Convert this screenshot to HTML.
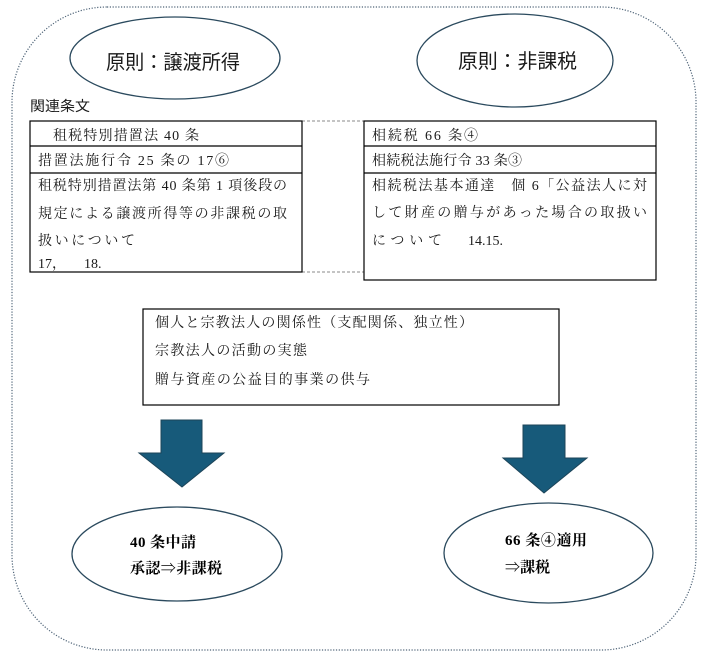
<!DOCTYPE html>
<html lang="ja">
<head>
<meta charset="utf-8">
<style>
  html, body { margin: 0; padding: 0; background: #ffffff; }
  body { width: 705px; height: 655px; overflow: hidden; }
  svg { display: block; }
  .m { font-family: "Liberation Serif", "Noto Serif CJK SC", serif; font-size: 14px; fill: #1a1a1a; }
  .g { font-family: "Liberation Sans", "Noto Sans CJK JP", sans-serif; fill: #1a1a1a; }
  .b { font-family: "Liberation Serif", "Noto Serif CJK SC", serif; font-size: 15px; font-weight: bold; fill: #000; }
</style>
</head>
<body>
<svg width="705" height="655" viewBox="0 0 705 655" xmlns="http://www.w3.org/2000/svg">
  <!-- outer dotted rounded rectangle -->
  <rect x="12" y="7" width="684" height="643" rx="95" ry="95" fill="none" stroke="#4f6478" stroke-width="1.2" stroke-dasharray="1.2 1.6"/>

  <!-- top ellipses -->
  <ellipse cx="175" cy="58" rx="105" ry="41" fill="#fff" stroke="#2b4a5e" stroke-width="1.3"/>
  <text class="g" x="106" y="69" font-size="20" textLength="134" lengthAdjust="spacingAndGlyphs">原則：譲渡所得</text>

  <ellipse cx="515" cy="60.5" rx="98" ry="46.5" fill="#fff" stroke="#2b4a5e" stroke-width="1.3"/>
  <text class="g" x="458" y="68" font-size="20" textLength="119" lengthAdjust="spacingAndGlyphs">原則：非課税</text>

  <!-- label -->
  <text class="g" x="30" y="111" font-size="14" textLength="60" lengthAdjust="spacingAndGlyphs">関連条文</text>

  <!-- dashed connectors -->
  <line x1="302" y1="121" x2="364" y2="121" stroke="#8a8a8a" stroke-width="1" stroke-dasharray="3 2"/>
  <line x1="302" y1="272" x2="364" y2="272" stroke="#8a8a8a" stroke-width="1" stroke-dasharray="3 2"/>

  <!-- left table -->
  <rect x="30" y="121" width="272" height="151" fill="#fff" stroke="#000" stroke-width="1.2"/>
  <line x1="30" y1="146" x2="302" y2="146" stroke="#000" stroke-width="1.2"/>
  <line x1="30" y1="173" x2="302" y2="173" stroke="#000" stroke-width="1.2"/>
  <text class="m" x="53" y="140" textLength="146" lengthAdjust="spacing">租税特別措置法 40 条</text>
  <text class="m" x="38" y="165" textLength="191" lengthAdjust="spacing">措置法施行令 25 条の 17⑥</text>
  <text class="m" x="38" y="190" textLength="249" lengthAdjust="spacing">租税特別措置法第 40 条第 1 項後段の</text>
  <text class="m" x="38" y="218" textLength="249" lengthAdjust="spacing">規定による譲渡所得等の非課税の取</text>
  <text class="m" x="38" y="245" textLength="97" lengthAdjust="spacing">扱いについて</text>
  <text class="m" x="38" y="268">17，</text>
  <text class="m" x="84" y="268">18.</text>

  <!-- right table -->
  <rect x="364" y="121" width="292" height="159" fill="#fff" stroke="#000" stroke-width="1.2"/>
  <line x1="364" y1="146" x2="656" y2="146" stroke="#000" stroke-width="1.2"/>
  <line x1="364" y1="173" x2="656" y2="173" stroke="#000" stroke-width="1.2"/>
  <text class="m" x="372" y="140" textLength="106" lengthAdjust="spacing">相続税 66 条④</text>
  <text class="m" x="372" y="165" textLength="150" lengthAdjust="spacing">相続税法施行令 33 条③</text>
  <text class="m" x="372" y="190" textLength="275" lengthAdjust="spacing">相続税法基本通達　個 6「公益法人に対</text>
  <text class="m" x="372" y="217" textLength="275" lengthAdjust="spacing">して財産の贈与があった場合の取扱い</text>
  <text class="m" x="372" y="245" textLength="70" lengthAdjust="spacing">について</text>
  <text class="m" x="468" y="245">14.15.</text>

  <!-- middle box -->
  <rect x="143" y="309" width="416" height="96" fill="#fff" stroke="#000" stroke-width="1.2"/>
  <text class="m" x="155" y="327" textLength="318" lengthAdjust="spacing">個人と宗教法人の関係性（支配関係、独立性）</text>
  <text class="m" x="155" y="355" textLength="152" lengthAdjust="spacing">宗教法人の活動の実態</text>
  <text class="m" x="155" y="384" textLength="215" lengthAdjust="spacing">贈与資産の公益目的事業の供与</text>

  <!-- arrows -->
  <polygon points="161,420 202,420 202,453 224,453 182,487 139,453 161,453" fill="#175a7a" stroke="#1d4458" stroke-width="1"/>
  <polygon points="523,425 565,425 565,458 587,458 544,493 503,458 523,458" fill="#175a7a" stroke="#1d4458" stroke-width="1"/>

  <!-- bottom ellipses -->
  <ellipse cx="177" cy="554" rx="105" ry="47" fill="#fff" stroke="#2b4a5e" stroke-width="1.3"/>
  <text class="b" x="130" y="547" textLength="66" lengthAdjust="spacing">40 条中請</text>
  <text class="b" x="130" y="573" textLength="92" lengthAdjust="spacing">承認⇒非課税</text>

  <ellipse cx="548.5" cy="553" rx="104.5" ry="50" fill="#fff" stroke="#2b4a5e" stroke-width="1.3"/>
  <text class="b" x="505" y="545" textLength="82" lengthAdjust="spacing">66 条④適用</text>
  <text class="b" x="505" y="572" textLength="45" lengthAdjust="spacing">⇒課税</text>
</svg>
</body>
</html>
